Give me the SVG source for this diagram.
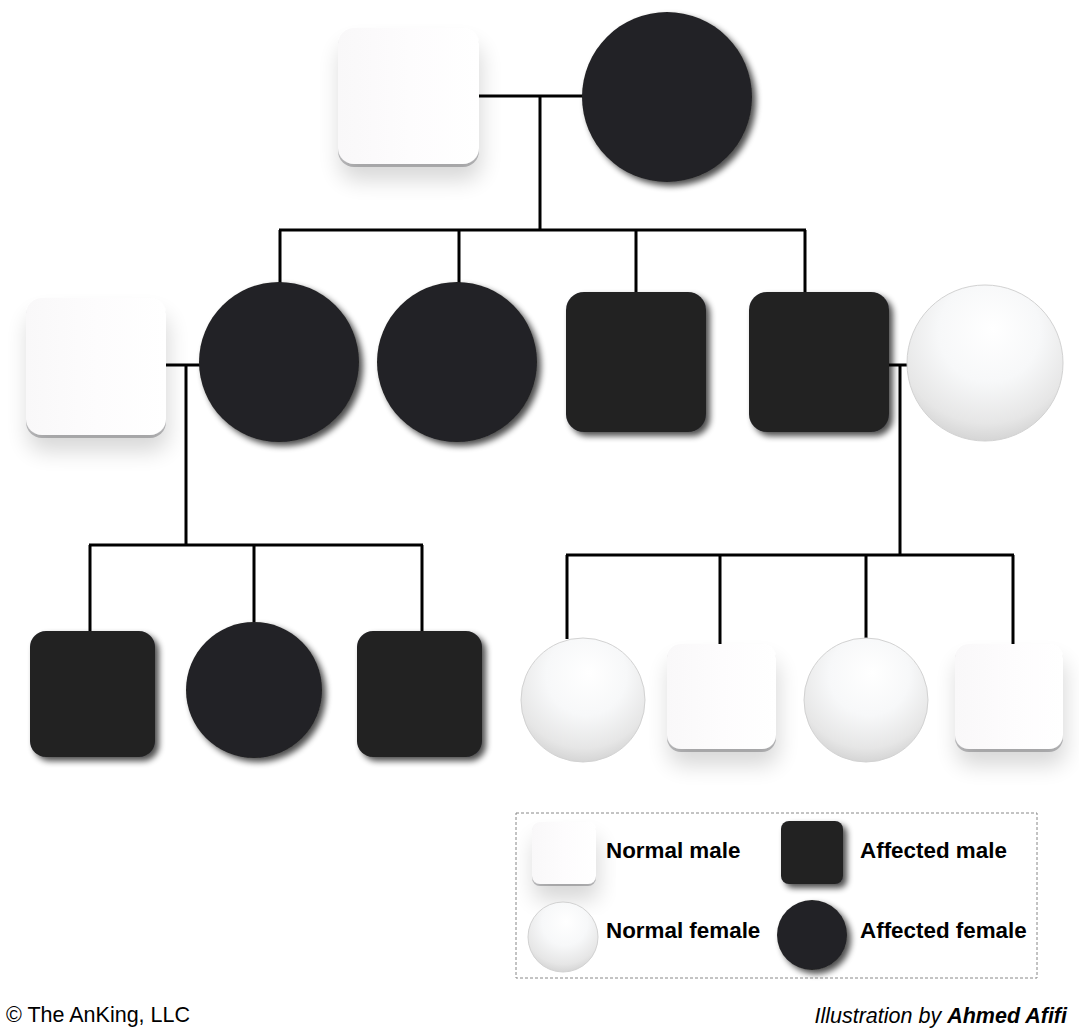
<svg xmlns="http://www.w3.org/2000/svg" width="1079" height="1034" viewBox="0 0 1079 1034">
<style>
.ln{stroke:#000;stroke-width:3;fill:none}
.wsq{fill:url(#wsqg);filter:url(#wshadow)}
.wrim{fill:#c2c2c4}
.bsq{fill:#222224;filter:url(#bshadow)}
.bc{fill:#232325;filter:url(#bshadow)}
.sph{fill:url(#sphg);stroke:#d2d2d2;stroke-width:1}
.lt{font-family:"Liberation Sans",Arial,sans-serif;font-weight:bold;font-size:22.4px;fill:#000}
.ft{font-family:"Liberation Sans",Arial,sans-serif;font-size:21.5px;fill:#000}
</style>
<defs>
<linearGradient id="wsqg" x1="0" y1="0" x2="1" y2="0">
<stop offset="0" stop-color="#f9f8f9"/><stop offset="0.5" stop-color="#fdfcfd"/><stop offset="1" stop-color="#ffffff"/>
</linearGradient>
<radialGradient id="sphg" cx="0.5" cy="0.32" r="0.72" fx="0.55" fy="0.28">
<stop offset="0" stop-color="#ffffff"/><stop offset="0.45" stop-color="#f7f8f9"/><stop offset="0.8" stop-color="#e6e6e6"/><stop offset="1" stop-color="#cfcfcf"/>
</radialGradient>
<filter id="wshadow" x="-30%" y="-30%" width="160%" height="180%">
<feGaussianBlur in="SourceAlpha" stdDeviation="11"/>
<feOffset dx="2" dy="16" result="b"/>
<feComponentTransfer><feFuncA type="linear" slope="0.16"/></feComponentTransfer>
<feMerge><feMergeNode/><feMergeNode in="SourceGraphic"/></feMerge>
</filter>
<filter id="bshadow" x="-20%" y="-20%" width="150%" height="150%">
<feGaussianBlur in="SourceAlpha" stdDeviation="3"/>
<feOffset dx="4" dy="4" result="b"/>
<feComponentTransfer><feFuncA type="linear" slope="0.7"/></feComponentTransfer>
<feMerge><feMergeNode/><feMergeNode in="SourceGraphic"/></feMerge>
</filter>
</defs>
<rect width="1079" height="1034" fill="#fff"/>

<g id="connectors">
<path class="ln" d="M479 96H583M540 96V230M279 230H806M280 230V284M459 230V284M636 230V292M805 230V292"/>
<path class="ln" d="M166 365H200M186 365V545M89 545H423M90 545V631M254 545V622M422 545V631"/>
<path class="ln" d="M889 365H908M900 365V555M566 555H1014M567 555V639M720 555V644M866 555V639M1013 555V644"/>
</g>

<g id="gen1-father"><rect x="338" y="30" width="141" height="137" rx="16" class="wrim"/><rect x="338" y="28" width="141" height="136" rx="16" class="wsq"/></g>
<g id="gen1-mother"><circle cx="667" cy="97" r="85" class="bc"/></g>

<g id="gen2-husband"><rect x="26" y="300" width="140" height="138" rx="16" class="wrim"/><rect x="26" y="298" width="140" height="137" rx="16" class="wsq"/></g>
<g id="gen2-daughter1"><circle cx="279" cy="362" r="80" class="bc"/></g>
<g id="gen2-daughter2"><circle cx="457" cy="362" r="80" class="bc"/></g>
<g id="gen2-son1"><rect x="566" y="292" width="140" height="140" rx="18" class="bsq"/></g>
<g id="gen2-son2"><rect x="749" y="292" width="140" height="140" rx="18" class="bsq"/></g>
<g id="gen2-wife"><circle cx="985" cy="363" r="78" class="sph"/></g>

<g id="gen3-son1"><rect x="30" y="631" width="125" height="126" rx="16" class="bsq"/></g>
<g id="gen3-daughter1"><circle cx="254" cy="690" r="68" class="bc"/></g>
<g id="gen3-son2"><rect x="357" y="631" width="125" height="126" rx="16" class="bsq"/></g>
<g id="gen3-daughter2"><circle cx="583" cy="700" r="62" class="sph"/></g>
<g id="gen3-son3"><rect x="667" y="646" width="109" height="106" rx="14" class="wrim"/><rect x="667" y="644" width="109" height="105" rx="14" class="wsq"/></g>
<g id="gen3-daughter3"><circle cx="866" cy="700" r="62" class="sph"/></g>
<g id="gen3-son4"><rect x="955" y="646" width="108" height="106" rx="14" class="wrim"/><rect x="955" y="644" width="108" height="105" rx="14" class="wsq"/></g>

<g id="legend">
<rect x="516" y="813" width="521" height="165" fill="none" stroke="#888" stroke-width="1" stroke-dasharray="3,2"/>
<rect x="532" y="824" width="64" height="62" rx="8" class="wrim"/><rect x="532" y="822" width="64" height="62" rx="8" class="wsq"/>
<text x="606" y="858" class="lt">Normal male</text>
<rect x="781" y="821" width="62" height="63" rx="8" class="bsq"/>
<text x="860" y="858" class="lt">Affected male</text>
<circle cx="563" cy="937" r="35" class="sph"/>
<text x="606" y="938" class="lt">Normal female</text>
<circle cx="812" cy="935" r="35" class="bc"/>
<text x="860" y="938" class="lt">Affected female</text>
</g>

<g id="footer">
<text x="6" y="1022" class="ft">© The AnKing, LLC</text>
<text x="1067" y="1023" class="ft" font-size="22" text-anchor="end" font-style="italic"><tspan font-weight="300">Illustration by </tspan><tspan font-weight="bold">Ahmed Afifi</tspan></text>
</g>
</svg>
